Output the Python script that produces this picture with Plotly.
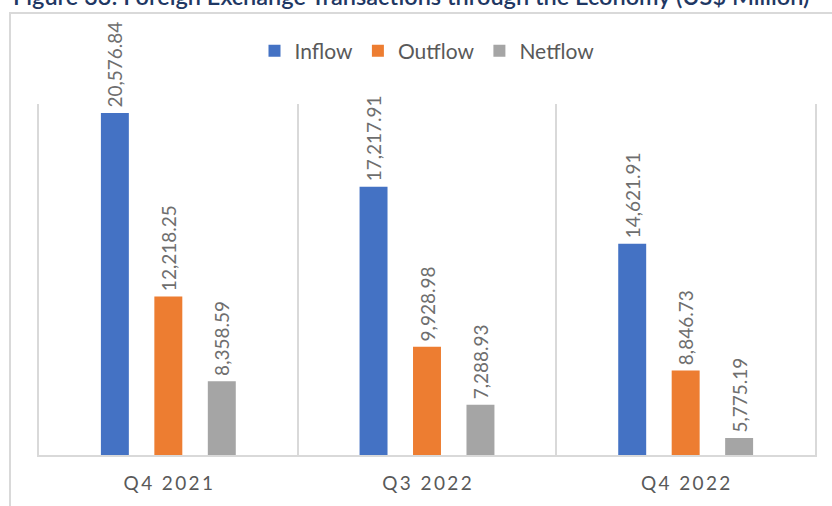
import plotly.graph_objects as go

# Foreign exchange transactions through the economy (US$ million)
categories = ["Q4 2021", "Q3 2022", "Q4 2022"]
inflow = [20576.84, 17217.91, 14621.91]
outflow = [12218.25, 9928.98, 8846.73]
netflow = [8358.59, 7288.93, 5775.19]

series = [
    ("Inflow", inflow, "#4472C4"),
    ("Outflow", outflow, "#ED7D31"),
    ("Netflow", netflow, "#A5A5A5"),
]

FONT = "Lato, Open Sans, sans-serif"
TEXT_GREY = "#595959"
LABEL_GREY = "#6E6E6E"
LINE_GREY = "#D9D9D9"

W, H = 832, 506
M_L, M_R, M_T, M_B = 39, 17, 104, 51
plot_w = W - M_L - M_R
plot_h = H - M_T - M_B


def px_to_paper_x(px):
    return (px - M_L) / plot_w


def px_to_paper_y(py):
    return (H - M_B - py) / plot_h


def spaced(label):
    # widen the category labels with thin spaces between characters
    return "\u2009".join(label)


x_pos = list(range(len(categories)))

fig = go.Figure()
for name, vals, color in series:
    fig.add_trace(go.Bar(
        name=name,
        x=x_pos,
        y=vals,
        marker=dict(color=color, line=dict(width=0)),
        # leading thin space keeps the label a little clear of the bar top
        texttemplate="\u2009%{y:,.2f}",
        textposition="outside",
        textangle=-90,
        constraintext="none",
        cliponaxis=False,
        textfont=dict(family=FONT, size=19, color=LABEL_GREY),
    ))

fig.update_layout(
    width=W,
    height=H,
    margin=dict(l=M_L, r=M_R, t=M_T, b=M_B),
    paper_bgcolor="white",
    plot_bgcolor="white",
    barmode="group",
    bargap=0.38,
    bargroupgap=0.477,
    font=dict(family=FONT, color=TEXT_GREY),
    showlegend=True,
    legend=dict(
        orientation="h",
        x=0.5,
        xanchor="center",
        y=px_to_paper_y(51),
        yanchor="middle",
        font=dict(family=FONT, size=21, color=TEXT_GREY),
        itemsizing="constant",
        traceorder="normal",
    ),
    xaxis=dict(
        range=[-0.5, len(categories) - 0.5],
        tickvals=x_pos,
        ticktext=[spaced(c) for c in categories],
        tickfont=dict(family=FONT, size=19, color=TEXT_GREY),
        ticks="",
        ticklabelstandoff=10,
        showgrid=False,
        zeroline=False,
        showline=True,
        linecolor=LINE_GREY,
        linewidth=1.5,
        minor=dict(
            tickvals=[i + 0.5 for i in x_pos[:-1]],
            showgrid=True,
            gridcolor=LINE_GREY,
            gridwidth=1.5,
            ticks="",
        ),
        fixedrange=True,
    ),
    yaxis=dict(
        range=[5000, 20986],
        showgrid=False,
        zeroline=False,
        showticklabels=False,
        ticks="",
        showline=True,
        mirror=True,
        linecolor=LINE_GREY,
        linewidth=1.5,
        fixedrange=True,
    ),
    shapes=[
        # outer chart frame (left and top edges visible)
        dict(
            type="rect", xref="paper", yref="paper",
            x0=px_to_paper_x(10), x1=px_to_paper_x(W + 20),
            y0=px_to_paper_y(H + 20), y1=px_to_paper_y(13),
            line=dict(color=LINE_GREY, width=2),
            fillcolor="rgba(0,0,0,0)",
            layer="below",
        ),
    ],
    annotations=[
        dict(
            text="Figure 33: Foreign Exchange Transactions through the Economy (US$ Million)",
            xref="paper", yref="paper",
            x=px_to_paper_x(11), xanchor="left",
            y=px_to_paper_y(12), yanchor="bottom",
            showarrow=False,
            font=dict(family=FONT, size=23.5, color="#1F3864", weight=600),
        ),
    ],
)

fig.write_html("out.html")
